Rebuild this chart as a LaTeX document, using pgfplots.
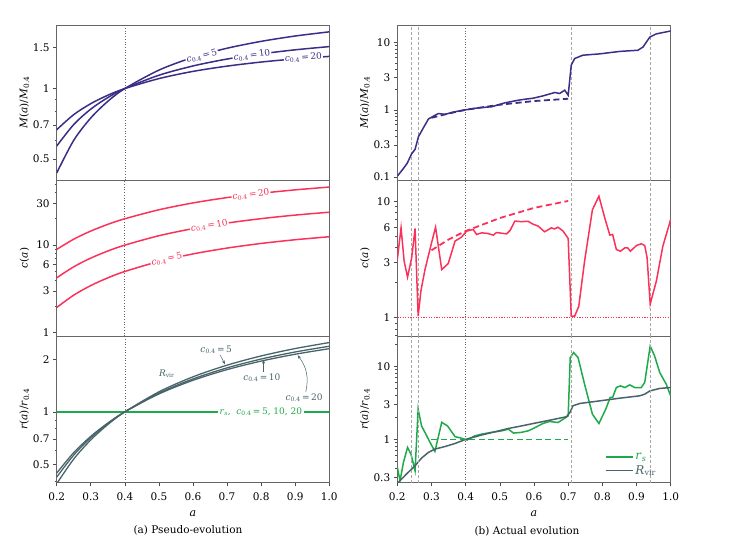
\documentclass[border=0pt]{standalone}
\usepackage{fontspec}
\setmainfont{DejaVu Serif}
\usepackage{pgfplots}
\pgfplotsset{compat=1.18}
\usetikzlibrary{arrows.meta}
\definecolor{cpur}{RGB}{58,46,135}
\definecolor{cred}{RGB}{250,50,90}
\definecolor{cgrn}{RGB}{30,170,75}
\definecolor{cslt}{RGB}{72,100,106}
\newcommand{\ci}[1]{\textit{c}\textsubscript{0.4}\,=\,#1}
\begin{document}
\begin{tikzpicture}
\path[use as bounding box] (0pt,0pt) rectangle (750pt,538pt);
\pgfplotsset{
  every axis/.append style={
    scale only axis, anchor=south west,
    font=\fontsize{10.5}{12}\selectfont,
    /pgf/number format/assume math mode=true,
    axis line style={draw=black!60, line width=0.8pt},
    tick style={black!70, line width=0.6pt},
    major tick length=3.5pt, minor tick length=2pt,
    tick align=outside,
    xmin=0.2, xmax=1.0,
    ymode=log,
    ytick pos=left, xtick pos=bottom,
    ylabel style={at={(axis description cs:-0.088,0.5)}, anchor=south, font=\fontsize{10.5}{12}\selectfont},
    xlabel style={font=\fontsize{11}{12}\selectfont, yshift=-4pt},
    xticklabel style={yshift=-2.5pt},
  },
  lw/.style={line width=1.5pt},
  dsh/.style={line width=1.8pt, dash pattern=on 6pt off 3.5pt},
  vl/.style={black!35, line width=0.6pt, dash pattern=on 3pt off 2pt},
  vd/.style={black!60, line width=0.7pt, dotted},
}
\def\xt{xtick={0.2,0.3,0.4,0.5,0.6,0.7,0.8,0.9,1.0}, xticklabels={0.2,0.3,0.4,0.5,0.6,0.7,0.8,0.9,1.0}}

% ---------------- LEFT TOP ----------------
\begin{axis}[at={(56.7pt,358pt)}, width=272.6pt, height=155pt,
  ymin=0.4068, ymax=1.869, ytick={0.5,0.7,1,1.5}, yticklabels={0.5,0.7,1,1.5},
  minor ytick={0.6,0.8,0.9}, xtick=\empty,
  ylabel={\textit{M}(\textit{a})/\textit{M}\textsubscript{0.4}}]
\addplot[vd] coordinates {(0.4,0.4068) (0.4,1.869)};
\addplot[cpur, lw, smooth] coordinates {(0.2,0.436) (0.25,0.601) (0.3,0.749) (0.35,0.882) (0.4,1) (0.5,1.199) (0.6,1.359) (0.7,1.487) (0.8,1.591) (0.9,1.677) (1.0,1.747)};
\addplot[cpur, lw, smooth] coordinates {(0.2,0.568) (0.25,0.702) (0.3,0.817) (0.35,0.915) (0.4,1) (0.5,1.140) (0.6,1.249) (0.7,1.337) (0.8,1.407) (0.9,1.464) (1.0,1.511)};
\addplot[cpur, lw, smooth] coordinates {(0.2,0.667) (0.25,0.774) (0.3,0.862) (0.35,0.9365) (0.4,1) (0.5,1.103) (0.6,1.184) (0.7,1.247) (0.8,1.298) (0.9,1.339) (1.0,1.372)};
\node[fill=white, inner sep=1pt, text=cpur, rotate=15, font=\fontsize{9}{10}\selectfont] at (axis cs:0.626,1.375) {\ci{5}};
\node[fill=white, inner sep=1pt, text=cpur, rotate=8.5, font=\fontsize{9}{10}\selectfont] at (axis cs:0.773,1.385) {\ci{10}};
\node[fill=white, inner sep=1pt, text=cpur, rotate=4, font=\fontsize{9}{10}\selectfont] at (axis cs:0.924,1.355) {\ci{20}};
\end{axis}

% ---------------- LEFT MIDDLE ----------------
\begin{axis}[at={(56.7pt,202pt)}, width=272.6pt, height=156pt,
  ymin=0.917, ymax=55.4, ytick={1,3,6,10,30}, yticklabels={1,3,6,10,30},
  minor ytick={2,4,5,7,8,9,20,40,50}, xtick=\empty,
  ylabel={\textit{c}(\textit{a})}]
\addplot[vd] coordinates {(0.4,0.917) (0.4,55.4)};
\addplot[cred, lw, smooth] coordinates {(0.2,1.938) (0.25,2.685) (0.3,3.453) (0.35,4.229) (0.4,5) (0.5,6.508) (0.6,7.936) (0.7,9.253) (0.8,10.45) (0.9,11.52) (1.0,12.46)};
\addplot[cred, lw, smooth] coordinates {(0.2,4.230) (0.25,5.657) (0.3,7.108) (0.35,8.562) (0.4,10) (0.5,12.80) (0.6,15.43) (0.7,17.86) (0.8,20.06) (0.9,22.02) (1.0,23.75)};
\addplot[cred, lw, smooth] coordinates {(0.2,8.926) (0.25,11.69) (0.3,14.47) (0.35,17.26) (0.4,20) (0.5,25.32) (0.6,30.32) (0.7,34.90) (0.8,39.06) (0.9,42.75) (1.0,46.0)};
\node[fill=white, inner sep=1pt, text=cred, rotate=12.5, font=\fontsize{9}{10}\selectfont] at (axis cs:0.523,6.85) {\ci{5}};
\node[fill=white, inner sep=1pt, text=cred, rotate=9, font=\fontsize{9}{10}\selectfont] at (axis cs:0.648,16.6) {\ci{10}};
\node[fill=white, inner sep=1pt, text=cred, rotate=7, font=\fontsize{9}{10}\selectfont] at (axis cs:0.77,37.8) {\ci{20}};
\end{axis}

% ---------------- LEFT BOTTOM ----------------
\begin{axis}[at={(56.7pt,55.3pt)}, width=272.6pt, height=146.7pt,
  ymin=0.393, ymax=2.718, ytick={0.5,0.7,1,2}, yticklabels={0.5,0.7,1,2},
  minor ytick={0.4,0.6,0.8,0.9}, \xt,
  xlabel={\textit{a}},
  ylabel={\textit{r}(\textit{a})/\textit{r}\textsubscript{0.4}}]
\addplot[vd] coordinates {(0.4,0.393) (0.4,2.718)};
\addplot[cgrn, lw] coordinates {(0.2,1) (1.0,1)};
\addplot[cslt, line width=1.3pt, smooth] coordinates {(0.2,0.3876) (0.25,0.5369) (0.3,0.6906) (0.35,0.8457) (0.4,1) (0.5,1.3017) (0.6,1.5872) (0.7,1.8507) (0.8,2.090) (0.9,2.304) (1.0,2.493)};
\addplot[cslt, line width=1.3pt, smooth] coordinates {(0.2,0.4230) (0.25,0.5657) (0.3,0.7108) (0.35,0.8562) (0.4,1) (0.5,1.2799) (0.6,1.5434) (0.7,1.7860) (0.8,2.0061) (0.9,2.2021) (1.0,2.3748)};
\addplot[cslt, line width=1.3pt, smooth] coordinates {(0.2,0.4463) (0.25,0.5843) (0.3,0.7237) (0.35,0.8628) (0.4,1) (0.5,1.2661) (0.6,1.5159) (0.7,1.7451) (0.8,1.9529) (0.9,2.1375) (1.0,2.300)};
\node[fill=white, inner sep=1.5pt, text=cgrn, font=\fontsize{9}{10}\selectfont] at (axis cs:0.799,1) {\textit{r}\textsubscript{\textit{s}},\ \ \ci{5, 10, 20}};
\node[text=cslt, font=\fontsize{9}{10}\selectfont] at (axis cs:0.523,1.66) {\textit{R}\textsubscript{vir}};
\node[text=cslt, font=\fontsize{9}{10}\selectfont] at (axis cs:0.668,2.27) {\ci{5}};
\node[text=cslt, font=\fontsize{9}{10}\selectfont] at (axis cs:0.802,1.57) {\ci{10}};
\node[text=cslt, font=\fontsize{9}{10}\selectfont] at (axis cs:0.926,1.2) {\ci{20}};
\draw[cslt, line width=0.5pt, -{Stealth[length=4pt,width=3pt]}] (axis cs:0.680,2.11) -- (axis cs:0.694,1.87);
\draw[cslt, line width=0.5pt, -{Stealth[length=4pt,width=3pt]}] (axis cs:0.807,1.69) -- (axis cs:0.807,1.99);
\draw[cslt, line width=0.5pt, -{Stealth[length=4pt,width=3pt]}] (axis cs:0.931,1.30) to[bend right=25] (axis cs:0.907,2.11);
\end{axis}

% ---------------- RIGHT TOP ----------------
\begin{axis}[at={(397.3pt,358pt)}, width=273.4pt, height=155pt,
  ymin=0.0902, ymax=18.3, ytick={0.1,0.3,1,3,10}, yticklabels={0.1,0.3,1,3,10},
  minor ytick={0.2,0.4,0.5,0.6,0.7,0.8,0.9,2,4,5,6,7,8,9}, xtick=\empty,
  ylabel={\textit{M}(\textit{a})/\textit{M}\textsubscript{0.4}}]
\addplot[vl] coordinates {(0.24,0.0902) (0.24,18.3)};
\addplot[vl] coordinates {(0.26,0.0902) (0.26,18.3)};
\addplot[vl] coordinates {(0.71,0.0902) (0.71,18.3)};
\addplot[vl] coordinates {(0.94,0.0902) (0.94,18.3)};
\addplot[vd] coordinates {(0.4,0.0902) (0.4,18.3)};
\addplot[color=cpur, dsh] coordinates {(0.3,0.76) (0.35,0.88) (0.4,1) (0.5,1.19) (0.6,1.35) (0.7,1.46)};
\addplot[cpur, lw] coordinates {(0.2,0.103) (0.215,0.128) (0.229,0.160) (0.242,0.222) (0.252,0.258) (0.262,0.40) (0.276,0.535) (0.291,0.73) (0.305,0.80) (0.32,0.88) (0.34,0.855) (0.359,0.912) (0.38,0.96) (0.40,1.00) (0.437,1.07) (0.476,1.11) (0.515,1.27) (0.554,1.39) (0.575,1.44) (0.598,1.49) (0.626,1.61) (0.661,1.81) (0.675,1.75) (0.690,1.96) (0.700,1.65) (0.709,4.6) (0.719,5.8) (0.743,6.5) (0.792,6.8) (0.851,7.4) (0.904,7.7) (0.919,8.6) (0.939,12.1) (0.958,13.5) (1.0,14.9)};
\end{axis}

% ---------------- RIGHT MIDDLE ----------------
\begin{axis}[at={(397.3pt,202pt)}, width=273.4pt, height=156pt,
  ymin=0.695, ymax=15.3, ytick={1,3,6,10}, yticklabels={1,3,6,10},
  minor ytick={0.7,0.8,0.9,2,4,5,7,8,9}, xtick=\empty,
  ylabel={\textit{c}(\textit{a})}]
\addplot[vl] coordinates {(0.24,0.695) (0.24,15.3)};
\addplot[vl] coordinates {(0.26,0.695) (0.26,15.3)};
\addplot[vl] coordinates {(0.71,0.695) (0.71,15.3)};
\addplot[vl] coordinates {(0.94,0.695) (0.94,15.3)};
\addplot[vd] coordinates {(0.4,0.695) (0.4,15.3)};
\addplot[color=cred, line width=1pt, dash pattern=on 1.3pt off 1.3pt] coordinates {(0.2,1) (1.0,1)};
\addplot[color=cred, dsh] coordinates {(0.3,3.8) (0.35,4.7) (0.4,5.56) (0.5,7.2) (0.6,8.8) (0.7,10.1)};
\addplot[cred, lw] coordinates {(0.200,3.16) (0.211,5.93) (0.220,3.06) (0.230,2.23) (0.242,3.27) (0.252,5.85) (0.261,1.03) (0.269,1.69) (0.281,2.59) (0.299,4.26) (0.312,6.0) (0.330,2.59) (0.349,2.92) (0.369,4.56) (0.388,4.93) (0.403,5.56) (0.422,5.74) (0.432,5.2) (0.447,5.37) (0.465,5.3) (0.481,5.13) (0.490,5.4) (0.520,5.26) (0.530,5.63) (0.544,6.78) (0.563,6.7) (0.583,6.75) (0.596,6.4) (0.612,6.14) (0.631,5.48) (0.651,5.93) (0.660,5.8) (0.670,6.0) (0.685,5.56) (0.700,4.8) (0.709,1.03) (0.719,1.03) (0.731,1.25) (0.748,3.06) (0.771,8.5) (0.790,11.1) (0.807,7.23) (0.822,5.13) (0.830,5.2) (0.841,3.86) (0.853,3.73) (0.866,3.99) (0.874,3.99) (0.882,3.73) (0.900,4.18) (0.914,4.32) (0.924,4.18) (0.931,3.27) (0.940,1.31) (0.958,2.06) (0.977,4.12) (1.000,7.0)};
\end{axis}

% ---------------- RIGHT BOTTOM ----------------
\begin{axis}[at={(397.3pt,55.3pt)}, width=273.4pt, height=146.7pt,
  ymin=0.256, ymax=25.9, ytick={0.3,1,3,10}, yticklabels={0.3,1,3,10},
  minor ytick={0.4,0.5,0.6,0.7,0.8,0.9,2,4,5,6,7,8,9,20}, \xt,
  xlabel={\textit{a}},
  ylabel={\textit{r}(\textit{a})/\textit{r}\textsubscript{0.4}},
  legend style={draw=none, fill=none, at={(0.965,0.02)}, anchor=south east, font=\fontsize{12}{14}\selectfont, row sep=0pt},
  legend cell align=left,
  legend image code/.code={\draw[#1, line width=1.8pt] (0pt,0pt) -- (27pt,0pt);}]
\addplot[color=cgrn, line width=1.5pt] coordinates {(0.200,0.415) (0.208,0.272) (0.218,0.485) (0.230,0.778) (0.240,0.63) (0.252,0.373) (0.261,2.59) (0.271,1.53) (0.286,1.12) (0.301,0.82) (0.310,0.686) (0.330,1.71) (0.347,1.53) (0.369,1.09) (0.388,1.04) (0.404,0.98) (0.427,1.12) (0.447,1.18) (0.476,1.25) (0.506,1.31) (0.525,1.38) (0.540,1.22) (0.564,1.25) (0.583,1.31) (0.598,1.41) (0.626,1.65) (0.646,1.76) (0.670,1.70) (0.690,1.95) (0.700,2.10) (0.706,13.1) (0.716,15.4) (0.729,13.1) (0.748,5.68) (0.771,2.21) (0.790,1.65) (0.810,2.59) (0.823,3.74) (0.830,3.74) (0.841,5.12) (0.853,5.39) (0.866,5.12) (0.880,5.56) (0.895,5.12) (0.914,5.12) (0.924,6.0) (0.940,18.9) (0.953,13.8) (0.968,8.2) (0.987,5.68) (1.000,3.93)};
\addlegendentry{\textcolor{cgrn}{\textit{r}\textsubscript{\textit{s}}}}
\addplot[color=cslt, line width=1.5pt] coordinates {(0.200,0.25) (0.210,0.28) (0.232,0.355) (0.252,0.436) (0.271,0.556) (0.291,0.664) (0.310,0.737) (0.340,0.80) (0.369,0.88) (0.400,1.00) (0.447,1.15) (0.486,1.27) (0.525,1.41) (0.564,1.53) (0.598,1.65) (0.646,1.83) (0.695,2.04) (0.705,2.33) (0.714,2.88) (0.734,3.10) (0.792,3.36) (0.851,3.66) (0.909,3.94) (0.924,4.15) (0.939,4.6) (0.968,4.97) (1.000,5.12)};
\addlegendentry{\textcolor{cslt}{\textit{R}\textsubscript{vir}}}
\addplot[color=cgrn, dsh] coordinates {(0.3,1) (0.7,1)};
\addplot[vl] coordinates {(0.24,0.256) (0.24,25.9)};
\addplot[vl] coordinates {(0.26,0.256) (0.26,25.9)};
\addplot[vl] coordinates {(0.71,0.256) (0.71,25.9)};
\addplot[vl] coordinates {(0.94,0.256) (0.94,25.9)};
\addplot[vd] coordinates {(0.4,0.256) (0.4,25.9)};
\end{axis}

\node[font=\fontsize{10.5}{12}\selectfont] at (188pt,8pt) {(a) Pseudo-evolution};
\node[font=\fontsize{10.5}{12}\selectfont] at (527pt,6.5pt) {(b) Actual evolution};
\end{tikzpicture}
\end{document}
